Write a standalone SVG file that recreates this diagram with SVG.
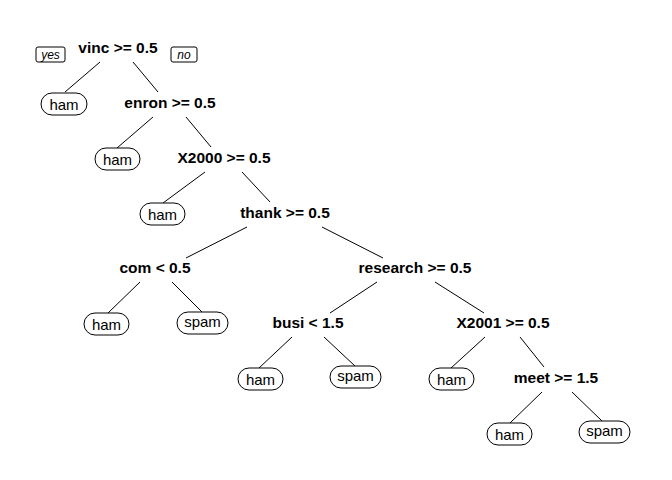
<svg xmlns="http://www.w3.org/2000/svg" width="672" height="480" viewBox="0 0 672 480">
<style>
.split{font-family:"Liberation Sans",Arial,sans-serif;font-size:15.5px;font-weight:bold;fill:#000;text-anchor:middle}
.leaf rect{fill:#fff;stroke:#000;stroke-width:1}
.leaf text{font-family:"Liberation Sans",Arial,sans-serif;font-size:15px;fill:#000;text-anchor:middle}
.tag rect{fill:#fff;stroke:#000;stroke-width:1}
.tag text{font-family:"Liberation Sans",Arial,sans-serif;font-size:12px;font-style:italic;fill:#000;text-anchor:middle}
.conn line{stroke:#000;stroke-width:1}
</style>
<rect width="672" height="480" fill="#fff"/>
<g id="connectors" class="conn">
<line x1="100" y1="62" x2="65" y2="92"/>
<line x1="133" y1="62" x2="158" y2="92"/>
<line x1="153" y1="117" x2="117" y2="148"/>
<line x1="186" y1="117" x2="211" y2="147"/>
<line x1="205" y1="172" x2="163" y2="203"/>
<line x1="242" y1="172" x2="270" y2="202"/>
<line x1="247" y1="227" x2="186" y2="258"/>
<line x1="322" y1="227" x2="383" y2="258"/>
<line x1="140" y1="282" x2="108" y2="313"/>
<line x1="172" y1="282" x2="202" y2="312"/>
<line x1="377" y1="282" x2="330" y2="313"/>
<line x1="435" y1="282" x2="484" y2="313"/>
<line x1="292" y1="337" x2="259" y2="368"/>
<line x1="324" y1="337" x2="355" y2="366"/>
<line x1="485" y1="337" x2="451" y2="368"/>
<line x1="520" y1="337" x2="544" y2="367"/>
<line x1="542" y1="392" x2="510" y2="423"/>
<line x1="572" y1="392" x2="602" y2="421"/>
</g>
<g id="tag-yes" class="tag"><rect x="36" y="47" width="29" height="15" rx="2"/><text x="50.5" y="59">yes</text></g>
<g id="tag-no" class="tag"><rect x="171" y="47" width="26" height="15" rx="2"/><text x="184" y="59">no</text></g>
<g id="n-vinc"><text class="split" x="118" y="53">vinc &gt;= 0.5</text></g>
<g id="n-enron"><text class="split" x="170" y="108">enron &gt;= 0.5</text></g>
<g id="n-x2000"><text class="split" x="224" y="163">X2000 &gt;= 0.5</text></g>
<g id="n-thank"><text class="split" x="285" y="218">thank &gt;= 0.5</text></g>
<g id="n-com"><text class="split" x="155" y="273">com &lt; 0.5</text></g>
<g id="n-research"><text class="split" x="415" y="273">research &gt;= 0.5</text></g>
<g id="n-busi"><text class="split" x="308" y="328">busi &lt; 1.5</text></g>
<g id="n-x2001"><text class="split" x="503" y="328">X2001 &gt;= 0.5</text></g>
<g id="n-meet"><text class="split" x="556" y="383">meet &gt;= 1.5</text></g>
<g id="leaf-ham1" class="leaf"><rect x="41" y="93" width="46" height="22" rx="11"/><text x="64" y="110">ham</text></g>
<g id="leaf-ham2" class="leaf"><rect x="95" y="148" width="45" height="22" rx="11"/><text x="117.5" y="165">ham</text></g>
<g id="leaf-ham3" class="leaf"><rect x="140" y="203" width="45" height="22" rx="11"/><text x="162.5" y="220">ham</text></g>
<g id="leaf-ham4" class="leaf"><rect x="84" y="313" width="45" height="22" rx="11"/><text x="106.5" y="330">ham</text></g>
<g id="leaf-spam1" class="leaf"><rect x="177" y="312" width="51" height="22" rx="11"/><text x="202.5" y="327">spam</text></g>
<g id="leaf-ham5" class="leaf"><rect x="238" y="368" width="45" height="22" rx="11"/><text x="260.5" y="385">ham</text></g>
<g id="leaf-spam2" class="leaf"><rect x="330" y="366" width="51" height="22" rx="11"/><text x="355.5" y="381">spam</text></g>
<g id="leaf-ham6" class="leaf"><rect x="429" y="368" width="45" height="22" rx="11"/><text x="451.5" y="385">ham</text></g>
<g id="leaf-ham7" class="leaf"><rect x="487" y="423" width="45" height="22" rx="11"/><text x="509.5" y="440">ham</text></g>
<g id="leaf-spam3" class="leaf"><rect x="579" y="421" width="51" height="22" rx="11"/><text x="604.5" y="436">spam</text></g>
</svg>
